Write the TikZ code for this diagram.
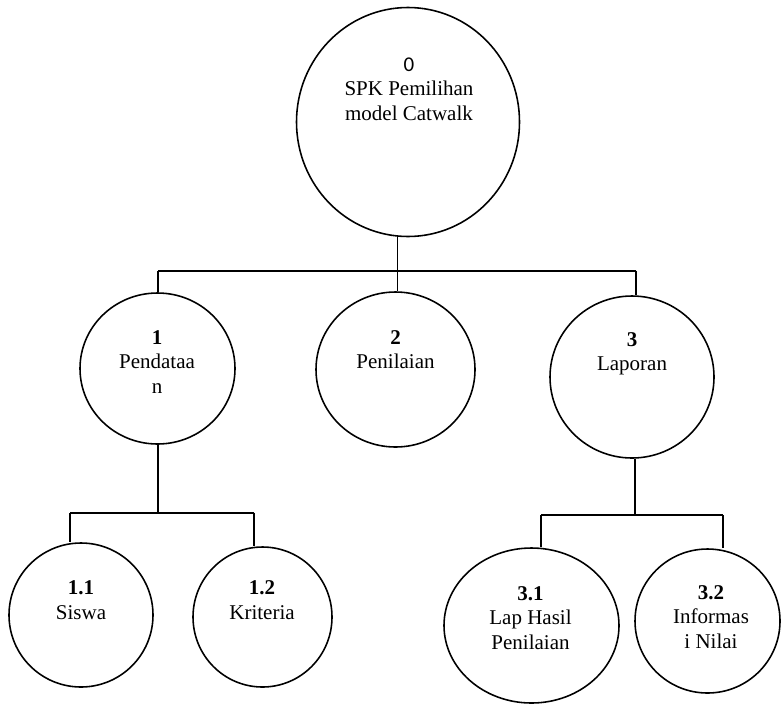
\documentclass[tikz,border=0pt]{standalone}
\usepackage{fontspec}
\setmainfont{Liberation Serif}
\newfontfamily\numfont{Carlito}
\usetikzlibrary{shapes.geometric, positioning}
\newcommand{\pxu}{0.5714pt}
\tikzset{
  proc/.style={draw, ellipse, line width=0.9pt, inner sep=0pt},
  txt/.style={align=center, inner sep=0pt, font=\fontsize{12}{14}\selectfont},
  link/.style={line width=1pt},
}

\begin{document}
\begin{tikzpicture}[x=0.5714pt, y=-0.5714pt]
\useasboundingbox (0,0) rectangle (781,705);
% processes
\node[proc, minimum width=223*\pxu, minimum height=229*\pxu] (p0) at (408,122) {};
\node[proc, minimum width=155*\pxu, minimum height=151*\pxu] (p1) at (157.5,368.5) {};
\node[proc, minimum width=159*\pxu, minimum height=155*\pxu] (p2) at (395.5,369.5) {};
\node[proc, minimum width=164*\pxu, minimum height=162*\pxu] (p3) at (632,377) {};
\node[proc, minimum width=144*\pxu, minimum height=144*\pxu] (p11) at (81,615) {};
\node[proc, minimum width=139*\pxu, minimum height=140*\pxu] (p12) at (262.5,617) {};
\node[proc, minimum width=175*\pxu, minimum height=155*\pxu] (p31) at (531.5,625.5) {};
\node[proc, minimum width=145*\pxu, minimum height=144*\pxu] (p32) at (707.5,621) {};
% labels
\node[txt] (t0) at (409,89) {{\numfont 0}\\SPK Pemilihan\\model Catwalk};
\node[txt] (t1) at (157,362) {\textbf{1}\\Pendataa\\n};
\node[txt] (t2) at (395.5,349.5) {\textbf{2}\\Penilaian};
\node[txt] (t3) at (632,354) {\textbf{3}\\Laporan};
\node[txt] (t11) at (81,600) {\textbf{1.1}\\Siswa};
\node[txt] (t12) at (262,600) {\textbf{1.2}\\Kriteria};
\node[txt] (t31) at (530.5,618) {\textbf{3.1}\\Lap Hasil\\Penilaian};
\node[txt] (t32) at (711,617) {\textbf{3.2}\\Informas\\i Nilai};
% junctions
\coordinate (j0) at (397.5,270.7);
\coordinate (b0l) at (158,270.7);
\coordinate (b0r) at (636,270.7);
\coordinate (j1) at (158,512.7);
\coordinate (b1l) at (70,512.7);
\coordinate (b1r) at (254,512.7);
\coordinate (j3) at (635,515);
\coordinate (b3l) at (541,515);
\coordinate (b3r) at (723,515);
% tree lines
\draw[link] (j0 |- p0.south) -- (j0);
\draw[link] (b0l) -- (b0r);
\draw[link] (b0l) -- (b0l |- p1.north);
\draw[link] (j0) -- (j0 |- p2.north);
\draw[link] (b0r) -- (b0r |- p3.north);
\draw[link] (j1 |- p1.south) -- (j1);
\draw[link] (b1l) -- (b1r);
\draw[link] (b1l) -- (b1l |- p11.north);
\draw[link] (b1r) -- (b1r |- p12.north);
\draw[link] (j3 |- p3.south) -- (j3);
\draw[link] (b3l) -- (b3r);
\draw[link] (b3l) -- (b3l |- p31.north);
\draw[link] (b3r) -- (b3r |- p32.north);
\end{tikzpicture}
\end{document}
